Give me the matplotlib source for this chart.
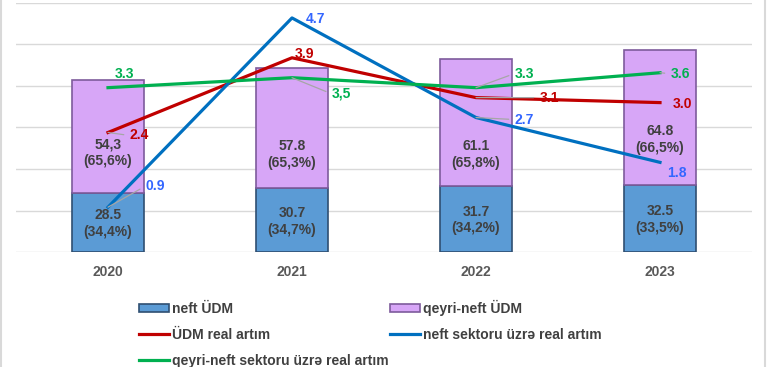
import numpy as np
import matplotlib
matplotlib.use('Agg')
import matplotlib.pyplot as plt
from matplotlib.patches import Rectangle

plt.rcParams['font.family'] = ['Liberation Sans', 'DejaVu Sans']

# data
years = ['2020', '2021', '2022', '2023']
neft_udm = [28.5, 30.7, 31.7, 32.5]
qeyri_udm = [54.3, 57.8, 61.1, 64.8]
neft_labels = ['28.5\n(34,4%)', '30.7\n(34,7%)', '31.7\n(34,2%)', '32.5\n(33,5%)']
qeyri_labels = ['54,3\n(65,6%)', '57.8\n(65,3%)', '61.1\n(65,8%)', '64.8\n(66,5%)']

udm_real = [2.4, 3.9, 3.1, 3.0]
neft_real = [0.9, 4.7, 2.7, 1.8]
qeyri_real = [3.3, 3.5, 3.3, 3.6]
udm_real_lbl = ['2.4', '3.9', '3.1', '3.0']
neft_real_lbl = ['0.9', '4.7', '2.7', '1.8']
qeyri_real_lbl = ['3.3', '3,5', '3.3', '3.6']

W, H = 770, 367
fig = plt.figure(figsize=(W / 100, H / 100), dpi=100)
ax = fig.add_axes([16 / W, 1 - 252 / H, 736 / W, 249 / H])

x = np.arange(len(years))
bw = 0.39

b1 = ax.bar(x, neft_udm, bw, color='#5B9BD5', edgecolor='#2F4F72', linewidth=1.2,
            label='neft ÜDM', zorder=2)
b2 = ax.bar(x, qeyri_udm, bw, bottom=neft_udm, color='#D7A6F7', edgecolor='#7E5B9C',
            linewidth=1.2, label='qeyri-neft ÜDM', zorder=2)

lbl_font = dict(fontsize=10, fontweight='bold', color='#404040', ha='center', va='center')
# shift of the purple labels below segment centre, pixels
qeyri_shift = [-16, -26, -32, -22]
for i in range(len(years)):
    ax.annotate(neft_labels[i], (x[i], neft_udm[i] / 2), xytext=(0, -1),
                textcoords='offset pixels', linespacing=1.25, zorder=5, **lbl_font)
    ax.annotate(qeyri_labels[i], (x[i], neft_udm[i] + qeyri_udm[i] / 2),
                xytext=(0, qeyri_shift[i]), textcoords='offset pixels',
                linespacing=1.25, zorder=5, **lbl_font)

ax.set_xlim(-0.5, 3.5)
ax.set_ylim(0, 120)
ax.set_yticks(np.arange(0, 121, 20))
ax.yaxis.grid(True, color='#D9D9D9', linewidth=1)
ax.set_axisbelow(True)
for s in ax.spines.values():
    s.set_visible(False)
ax.set_yticklabels([])
ax.tick_params(axis='y', length=0)
ax.set_xticks(x)
ax.set_xticklabels(years, fontsize=10, fontweight='bold', color='#595959')
ax.tick_params(axis='x', length=0, pad=9)

# secondary axis for the growth lines
ax2 = ax.twinx()
ax2.set_ylim(0, 5)
ax2.axis('off')

l1, = ax2.plot(x, udm_real, color='#C00000', lw=2.3, label='ÜDM real artım', zorder=3)
l2, = ax2.plot(x, neft_real, color='#0070C0', lw=2.3, label='neft sektoru üzrə real artım', zorder=3)
l3, = ax2.plot(x, qeyri_real, color='#00B050', lw=2.3, label='qeyri-neft sektoru üzrə real artım', zorder=3)

# (dx, dy, leader) in pixels for each label
udm_pos = [(31, -3, True), (12, 4, False), (73, 0, True), (22, -1, False)]
neft_pos = [(47, 21, True), (24, -1, False), (48, -2, True), (17, -11, False)]
qeyri_pos = [(16, 14, False), (49, -16, True), (48, 14, True), (20, -1, True)]

def put_labels(vals, texts, pos, color):
    for i, v in enumerate(vals):
        dx, dy, leader = pos[i]
        ap = None
        if leader:
            ap = dict(arrowstyle='-', color='#A6A6A6', lw=0.9, shrinkA=2, shrinkB=0,
                      relpos=(0, 0.5))
        ax2.annotate(texts[i], (x[i], v), xytext=(dx, dy), textcoords='offset pixels',
                     ha='center', va='center', fontsize=10, fontweight='bold',
                     color=color, arrowprops=ap, zorder=6)

put_labels(udm_real, udm_real_lbl, udm_pos, '#C00000')
put_labels(neft_real, neft_real_lbl, neft_pos, '#3366FF')
put_labels(qeyri_real, qeyri_real_lbl, qeyri_pos, '#00B050')

handles = [b1, l1, l3, b2, l2]
fig.legend(handles, [h.get_label() for h in handles], loc='upper left',
           bbox_to_anchor=(139 / W, 1 - 300 / H), ncol=2, frameon=False,
           prop=dict(size=10, weight='bold'), labelcolor='#404040',
           handlelength=2.15, handleheight=0.55, handletextpad=0.22,
           columnspacing=0.1, labelspacing=0.85, borderpad=0, borderaxespad=0)

# thin frame of the chart area
fig.add_artist(Rectangle((1 / W, -0.1), 764 / W, 1.2, transform=fig.transFigure,
                         fill=False, edgecolor='#D9D9D9', lw=1.5))

fig.savefig('out.png', dpi=100, facecolor='white')
